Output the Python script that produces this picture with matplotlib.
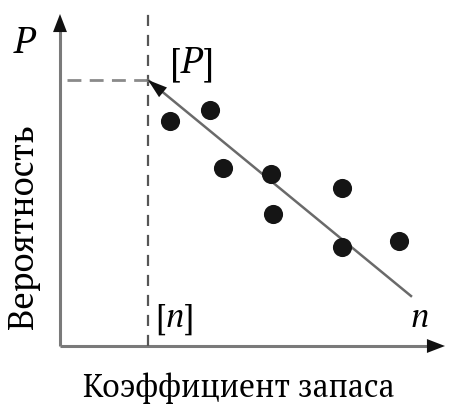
import matplotlib
matplotlib.use("Agg")
import matplotlib.pyplot as plt
from matplotlib import font_manager
from matplotlib.font_manager import FontProperties
from matplotlib.transforms import offset_copy

# Fonts: serif with Cyrillic, picked by file
wanted = {'rm': ['PT_Serif-Web-Regular.ttf', 'LiberationSerif-Regular.ttf'],
          'it': ['PT_Serif-Web-Italic.ttf', 'LiberationSerif-Italic.ttf']}
by_base = {f.fname.split('/')[-1]: f.fname for f in font_manager.fontManager.ttflist}
serif_files = {}
for kind, names in wanted.items():
    for nm in names:
        if nm in by_base:
            serif_files[kind] = by_base[nm]
            break

def fp(kind, size):
    if kind in serif_files:
        return FontProperties(fname=serif_files[kind], size=size)
    return FontProperties(family='DejaVu Serif', size=size,
                          style='italic' if kind == 'it' else 'normal')

# Data (schematic units, origin at axes corner)
n_vals = [11.0, 15.0, 16.3, 21.1, 21.3, 28.2, 28.2, 33.9]
p_vals = [22.5, 23.6, 17.8, 17.2, 13.2, 15.8, 9.9, 10.5]
n_allow = 8.8
p_allow = 26.6
trend_end = (35.1, 5.0)
x_axis_end = 38.5
y_axis_end = 33.2

x_label = "Коэффициент запаса"
y_label = "Вероятность"

fig = plt.figure(figsize=(4.5, 4.06), dpi=100)
ax = fig.add_axes([0, 0, 1, 1])
ax.set_xlim(-6.0, 39.0)
ax.set_ylim(-5.9, 34.7)
ax.axis('off')
renderer = fig.canvas.get_renderer()

axis_col = '#7a7a7a'
dash_col = '#8a8a8a'

# axes
ax.plot([0, x_axis_end - 1.2], [0, 0], color=axis_col, lw=2.2, solid_capstyle='butt')
ax.plot([0, 0], [0, y_axis_end - 1.2], color=axis_col, lw=2.2, solid_capstyle='butt')
head = dict(arrowstyle='-|>,head_length=13,head_width=5', color='#111111',
            lw=0, shrinkA=0, shrinkB=0, mutation_scale=1)
ax.annotate('', xy=(x_axis_end, 0), xytext=(x_axis_end - 1.0, 0), arrowprops=head)
ax.annotate('', xy=(0, y_axis_end), xytext=(0, y_axis_end - 1.0), arrowprops=head)

# dashed guide lines
ax.plot([n_allow, n_allow], [0, y_axis_end], color='#555555', lw=1.6,
        dashes=(5, 4))
ax.plot([0.7, n_allow], [p_allow, p_allow], color=dash_col, lw=2.0,
        dashes=(5, 3))

# trend line with arrow at [P]
ax.plot([n_allow, trend_end[0]], [p_allow, trend_end[1]], color='#6a6a6a', lw=1.8)
dx = trend_end[0] - n_allow
dy = trend_end[1] - p_allow
ax.annotate('', xy=(n_allow, p_allow),
            xytext=(n_allow + dx * 0.05, p_allow + dy * 0.05),
            arrowprops=dict(arrowstyle='-|>,head_length=14,head_width=4.5',
                            color='#111111', lw=0, shrinkA=0, shrinkB=0,
                            mutation_scale=1))

# points
ax.scatter(n_vals, p_vals, s=190, color='#151515', zorder=3, linewidths=0)


def pieces(x, y, parts, size):
    # mixed upright/italic text, left to right from x (baseline y)
    shift = 0.0
    for s, kind in parts:
        tr = offset_copy(ax.transData, fig=fig, x=shift, y=0, units='dots')
        t = ax.text(x, y, s, fontproperties=fp(kind, size), ha='left',
                    va='baseline', transform=tr)
        shift += t.get_window_extent(renderer).width


def fit(t, target, vertical=False):
    bb = t.get_window_extent(renderer)
    cur = bb.height if vertical else bb.width
    t.set_fontsize(t.get_fontsize() * target / cur)


# labels
ax.text(-3.6, 29.4, 'P', fontproperties=fp('it', 26), ha='center', va='baseline')
pieces(11.0, 27.4, [('[', 'rm'), ('P', 'it'), (']', 'rm')], 26)
pieces(9.5, 2.0, [('[', 'rm'), ('n', 'it'), (']', 'rm')], 24)
ax.text(36.0, 2.0, 'n', fontproperties=fp('it', 24), ha='center', va='baseline')
xl = ax.text(17.9, -5.0, x_label, fontproperties=fp('rm', 21), ha='center',
             va='baseline')
fit(xl, 312)
yl = ax.text(-2.7, 12.0, y_label, fontproperties=fp('rm', 21), ha='center',
             va='baseline', rotation=90, rotation_mode='anchor')
fit(yl, 205, vertical=True)

fig.savefig('out.png', dpi=100)
